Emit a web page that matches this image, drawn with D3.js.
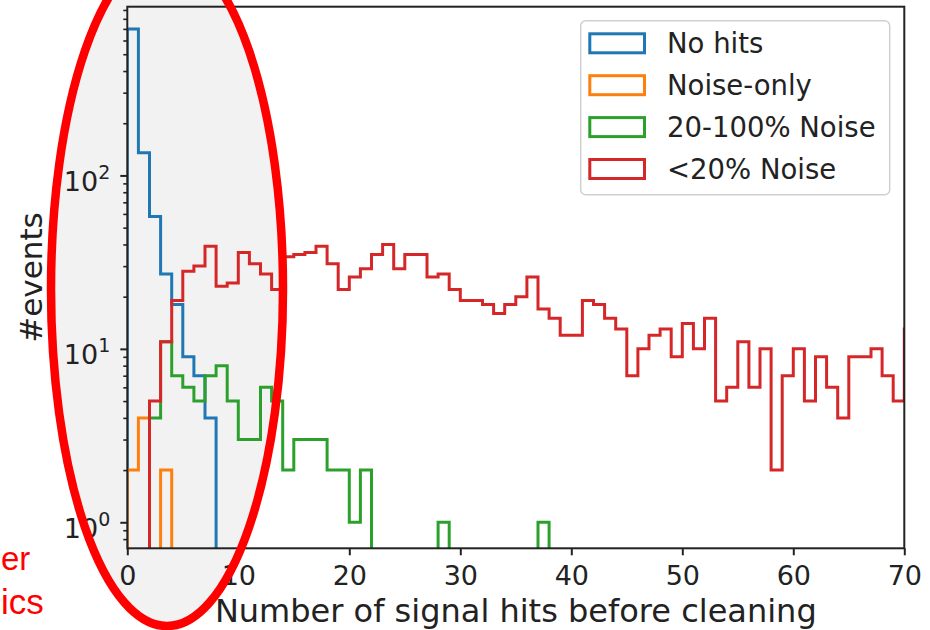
<!DOCTYPE html>
<html>
<head>
<meta charset="utf-8">
<script src="https://cdn.jsdelivr.net/npm/d3@7"></script>
<style>
  body { margin: 0; background: #fff; }
  svg { display: block; }
</style>
</head>
<body>
<svg id="chart" width="930" height="630"></svg>
<script>
// Event counts per number of signal hits (bins of width 1, first bin = 0 hits)
const noHits = [700, 135, 58, 27, 18, 9, 7, 4];
const noiseOnly = [2, 4, 0, 2];
const noise20to100 = [0, 0, 4, 11, 7, 6, 5, 7, 8, 5, 3, 3, 6, 5, 2, 3, 3, 3, 2, 2,
                      1, 2, 0, 0, 0, 0, 0, 0, 1, 0, 0, 0, 0, 0, 0, 0, 0, 1];
const noiseBelow20 = [0, 0, 5, 11, 19, 28, 30, 39, 23, 24,
                      36, 31, 27, 22, 34, 35, 36, 39, 31, 22,
                      26, 29, 35, 40, 29, 35, 35, 26, 27, 22,
                      19, 19, 18, 16, 18, 20, 26, 17, 15, 12,
                      12, 19, 18, 15, 13, 7, 10, 12, 13, 9,
                      14, 10, 15, 5, 6, 11, 6, 10, 2, 7,
                      10, 5, 9, 6, 4, 9, 9, 10, 7, 5,
                      13];
const seriesNames = ["No hits", "Noise-only", "20-100% Noise", "<20% Noise"];
const seriesColors = ["#1f77b4", "#ff7f0e", "#2ca02c", "#d62728"];
const xTicks = [0, 10, 20, 30, 40, 50, 60, 70];
const yMajorTicks = [1, 10, 100];
const yTickExponents = ["0", "1", "2"];
const xLabel = "Number of signal hits before cleaning";
const yLabel = "#events";
const sideNotes = ["er", "ics"];

const FONT = "'DejaVu Sans', sans-serif";
const svg = d3.select("#chart");
const plot = { left: 127.3, right: 904.3, top: 6.7, bottom: 548.3 };

const x = d3.scaleLinear().domain([0, 70]).range([plot.left, plot.right]);
const y = d3.scaleLog()
  .domain([Math.pow(10, -0.15), Math.pow(10, 2.973)])
  .range([plot.bottom, plot.top]);

// Shaded highlight region (drawn behind the plot)
const hl = { cx: 167, cy: 289, rx: 116, ry: 337 };
svg.append("ellipse")
  .attr("cx", hl.cx).attr("cy", hl.cy).attr("rx", hl.rx).attr("ry", hl.ry)
  .attr("fill", "#f2f2f2");

svg.append("defs").append("clipPath").attr("id", "plotClip")
  .append("rect")
  .attr("x", plot.left).attr("y", plot.top)
  .attr("width", plot.right - plot.left).attr("height", plot.bottom - plot.top);

// Step outline of a histogram; empty bins fall below the visible range
const floorValue = 0.05;
function stepPath(counts) {
  const pts = [[x(0), y(floorValue)]];
  counts.forEach((c, i) => {
    const v = c > 0 ? c : floorValue;
    pts.push([x(i), y(v)]);
    pts.push([x(i + 1), y(v)]);
  });
  pts.push([x(counts.length), y(floorValue)]);
  return d3.line()(pts);
}

const allSeries = [noHits, noiseOnly, noise20to100, noiseBelow20];
svg.append("g").attr("clip-path", "url(#plotClip)")
  .selectAll("path")
  .data(allSeries)
  .join("path")
  .attr("d", d => stepPath(d))
  .attr("fill", "none")
  .attr("stroke", (d, i) => seriesColors[i])
  .attr("stroke-width", 3)
  .attr("stroke-linejoin", "miter");

// Frame
svg.append("rect")
  .attr("x", plot.left).attr("y", plot.top)
  .attr("width", plot.right - plot.left).attr("height", plot.bottom - plot.top)
  .attr("fill", "none").attr("stroke", "#222").attr("stroke-width", 2);

// X axis
const xAxis = svg.append("g")
  .attr("transform", `translate(0,${plot.bottom})`)
  .call(d3.axisBottom(x).tickValues(xTicks).tickSize(7).tickFormat(d3.format("d")));
xAxis.attr("font-family", FONT).attr("font-size", 27);
xAxis.select(".domain").remove();
xAxis.selectAll(".tick line").attr("stroke", "#222").attr("stroke-width", 2);
xAxis.selectAll(".tick text").attr("y", 37).attr("dy", null).attr("fill", "#222");

// Y axis: minor ticks
const minorTicks = [];
[0.1, 1, 10, 100].forEach(base => {
  for (let m = 2; m <= 9; m++) minorTicks.push(base * m);
});
const [yLo, yHi] = y.domain();
const yMinor = svg.append("g")
  .attr("transform", `translate(${plot.left},0)`)
  .call(d3.axisLeft(y).tickValues(minorTicks.filter(v => v >= yLo && v <= yHi))
    .tickSize(4).tickFormat(""));
yMinor.select(".domain").remove();
yMinor.selectAll(".tick line").attr("stroke", "#222").attr("stroke-width", 1.6);

// Y axis: major ticks with power-of-ten labels
const yMajor = svg.append("g")
  .attr("transform", `translate(${plot.left},0)`)
  .call(d3.axisLeft(y).tickValues(yMajorTicks).tickSize(7).tickFormat(""));
yMajor.select(".domain").remove();
yMajor.selectAll(".tick line").attr("stroke", "#222").attr("stroke-width", 2);
yMajor.selectAll(".tick").each(function (d, i) {
  const t = d3.select(this).append("text")
    .attr("x", -17).attr("y", 15)
    .attr("text-anchor", "end")
    .attr("font-family", FONT).attr("font-size", 27).attr("fill", "#222");
  t.append("tspan").text("10");
  t.append("tspan").attr("dy", -12).attr("font-size", 19).text(yTickExponents[i]);
});

// Axis titles
svg.append("text")
  .attr("x", (plot.left + plot.right) / 2).attr("y", 622)
  .attr("text-anchor", "middle")
  .attr("font-family", FONT).attr("font-size", 32).attr("fill", "#222")
  .text(xLabel);
svg.append("text")
  .attr("transform", `translate(42,${(plot.top + plot.bottom) / 2}) rotate(-90)`)
  .attr("text-anchor", "middle")
  .attr("font-family", FONT).attr("font-size", 31).attr("fill", "#222")
  .text(yLabel);

// Legend
const legend = svg.append("g");
legend.append("rect")
  .attr("x", 580.7).attr("y", 20.7).attr("width", 309).attr("height", 174)
  .attr("rx", 5).attr("fill", "#fff").attr("fill-opacity", 0.8)
  .attr("stroke", "#d0d0d0").attr("stroke-width", 1.5);
const rowY = d3.scaleLinear().domain([0, 3]).range([43.3, 169]);
const rows = legend.selectAll("g.row").data(seriesNames).join("g").attr("class", "row")
  .attr("transform", (d, i) => `translate(0,${rowY(i)})`);
rows.append("rect")
  .attr("x", 589.8).attr("y", -9.5).attr("width", 54.7).attr("height", 19)
  .attr("fill", "none").attr("stroke", (d, i) => seriesColors[i]).attr("stroke-width", 3);
rows.append("text")
  .attr("x", 667).attr("y", 0).attr("dy", "0.35em")
  .attr("font-family", FONT).attr("font-size", 27.5).attr("fill", "#222")
  .text(d => d);

// Side notes at the left edge
svg.selectAll("text.note").data(sideNotes).join("text").attr("class", "note")
  .attr("x", 1).attr("y", (d, i) => [570, 614][i])
  .attr("text-anchor", "start")
  .attr("font-family", "'Liberation Sans', Arial, sans-serif")
  .attr("font-size", (d, i) => [33, 35][i])
  .attr("fill", "#f00")
  .text(d => d);

// Highlight outline drawn on top
svg.append("ellipse")
  .attr("cx", hl.cx).attr("cy", hl.cy).attr("rx", hl.rx).attr("ry", hl.ry)
  .attr("fill", "none").attr("stroke", "#f00").attr("stroke-width", 8.5);
</script>
</body>
</html>
